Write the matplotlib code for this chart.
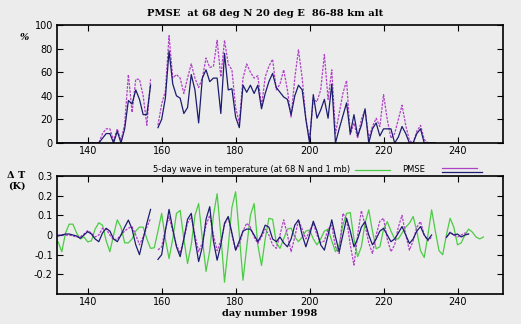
import numpy as np
import matplotlib
matplotlib.use('Agg')
import matplotlib.pyplot as plt
from matplotlib.lines import Line2D

nan = np.nan

# daily PMSE occurrence (%) at 86-88 km, days 131..234
pmse_days = np.arange(131, 235)
pmse_dark = [0, 0, 0, 0, 0, 0, 0, 0, 0, 0, 0, 0,
             0, 4, 8, 8, 0, 10, 0, 12, 36, 33, 45, 37, 24, 24, 49, nan,
             13, 20, 38, 78, 50, 40, 38, 25, 30, 58, 45, 17, 55, 62, 52,
             55, 55, 25, 76, 45, 46, 22, 13, 49, 43, 49, 42, 49, 29, 42,
             52, 59, 47, 43, 39, 37, 24, 40, 49, 45, 20, 0, 41, 21, 28,
             37, 21, 50, 0, 12, 23, 34, 8, 24, 6, 15, 29, 0, 12, 17,
             6, 12, 12, 12, 0, 5, 14, 8, 0, 0, 8, 12, 0, 0, 0, 0]
pmse_light = [0, 0, 0, 0, 0, 0, 0, 0, 0, 0, 0, 0,
              0, 8, 12, 12, 2, 12, 2, 16, 58, 26, 54, 54, 40, 15, 54, nan,
              15, 33, 44, 91, 55, 58, 55, 42, 55, 67, 55, 47, 55, 72, 64,
              65, 87, 56, 87, 67, 62, 30, 17, 55, 67, 60, 55, 57, 31, 56,
              65, 71, 45, 50, 62, 45, 22, 55, 79, 55, 20, 3, 37, 35, 45,
              75, 37, 62, 8, 25, 42, 53, 7, 17, 4, 20, 28, 4, 14, 21,
              14, 41, 20, 4, 8, 20, 32, 15, 2, 0, 10, 15, 3, 0, 0, 0]

# 5-day wave in temperature (K), days 132..247
temp_days = np.arange(132, 248)
temp_wave = [-0.035, -0.085, 0.01, 0.055, 0.055, 0.01, -0.02, -0.01, -0.035, -0.03,
             0.03, 0.062, 0.05, -0.03, -0.085, 0.0, 0.077, 0.04, -0.04, -0.04,
             -0.02, 0.02, 0.04, 0.04, -0.02, -0.068, -0.065, 0.02, 0.11, -0.02,
             -0.12, -0.02, 0.11, 0.125, -0.02, -0.145, -0.05, 0.1, 0.16, -0.02,
             -0.185, -0.08, 0.1, 0.21, 0.0, -0.24, -0.06, 0.14, 0.22, 0.0,
             -0.23, -0.06, 0.1, 0.16, -0.05, -0.155, -0.02, 0.085, 0.08, -0.04,
             -0.068, -0.02, 0.03, 0.035, -0.01, -0.034, -0.01, 0.02, 0.026, -0.02,
             -0.05, -0.02, 0.02, 0.03, -0.03, -0.085, -0.05, 0.05, 0.11, 0.114,
             -0.02, -0.11, -0.06, 0.06, 0.128, 0.02, -0.07, -0.06, 0.03, 0.068,
             0.02, -0.02, -0.02, 0.01, 0.04, 0.06, 0.094, 0.02, -0.08, -0.114,
             0.0, 0.128, 0.02, -0.08, -0.1, 0.0, 0.085, 0.04, -0.05, -0.04,
             0.0, 0.03, 0.015, -0.01, -0.02, -0.01]

# 5-day component of PMSE, days 132..243
wave_days = np.arange(132, 244)
wave_dark = [-0.005, 0.0, 0.005, 0.005, 0.0, -0.005, -0.017, 0.0, 0.017, 0.005,
             -0.02, -0.034, 0.01, 0.034, 0.02, -0.02, -0.034, 0.0, 0.04, 0.076,
             0.03, -0.05, -0.1, -0.02, 0.06, 0.13, nan, -0.124, -0.1, 0.02,
             0.13, 0.03, -0.06, -0.11, -0.02, 0.08, 0.11, -0.02, -0.135, -0.06,
             0.08, 0.144, -0.03, -0.128, -0.05, 0.06, 0.094, 0.01, -0.077, -0.03,
             0.02, 0.03, 0.03, 0.0, -0.034, 0.0, 0.05, 0.04, -0.02, -0.034,
             -0.01, -0.04, -0.06, -0.02, 0.05, 0.077, 0.0, -0.06, 0.0, 0.07,
             0.02, -0.05, -0.077, 0.0, 0.077, -0.01, -0.085, 0.0, 0.085, 0.02,
             -0.06, -0.02, 0.04, 0.068, 0.0, -0.05, -0.02, 0.02, 0.034, 0.0,
             -0.034, -0.02, 0.01, 0.043, 0.0, -0.043, -0.02, 0.02, 0.043, 0.0,
             -0.025, 0.0, nan, nan, nan, -0.012, 0.012, 0.0, 0.005, -0.01,
             0.0, 0.005]
wave_light = [0.0, 0.0, -0.002, 0.0, -0.005, -0.01, -0.01, 0.005, 0.022, 0.01,
              -0.01, 0.0, 0.034, 0.03, 0.0, -0.025, -0.02, 0.0, 0.02, 0.035,
              0.042, 0.0, -0.05, -0.01, 0.04, 0.085, nan, -0.076, -0.06, 0.03,
              0.093, 0.02, -0.05, -0.093, -0.02, 0.06, 0.093, 0.0, -0.085, -0.04,
              0.05, 0.1, 0.0, -0.08, -0.03, 0.05, 0.093, 0.0, -0.076, -0.05,
              0.02, 0.06, 0.04, -0.01, -0.043, -0.01, 0.03, 0.0, -0.05, -0.068,
              0.0, 0.077, 0.0, -0.085, -0.01, 0.077, 0.03, -0.02, 0.02, 0.06,
              0.0, -0.04, -0.03, 0.03, 0.05, -0.06, -0.094, 0.11, 0.08, -0.05,
              -0.153, 0.0, 0.124, 0.05, -0.04, -0.094, 0.0, 0.07, 0.085, -0.02,
              -0.085, -0.05, 0.04, 0.1, 0.0, -0.077, -0.03, 0.04, 0.068, 0.0,
              -0.03, -0.01, nan, nan, nan, -0.01, 0.015, 0.0, -0.01, 0.0,
              0.01, 0.005]

bg = '#ececec'
navy = '#1c1c70'
violet = '#b040c8'
green = '#4ccc44'
serif = 'DejaVu Serif'

W, H = 521, 324
fig = plt.figure(figsize=(W / 100, H / 100), dpi=100, facecolor=bg)

def px(x, y):
    return x / W, 1 - y / H

ax1 = fig.add_axes([57 / W, 1 - 143 / H, 446 / W, 118 / H], facecolor=bg)
ax2 = fig.add_axes([57 / W, 1 - 294 / H, 446 / W, 118 / H], facecolor=bg)

ax1.plot(pmse_days, pmse_light, color=violet, lw=0.9, ls=(0, (2, 1)))
ax1.plot(pmse_days, pmse_dark, color=navy, lw=0.9)
ax1.set_ylim(0, 100)
ax1.set_yticks([0, 20, 40, 60, 80, 100])

ax2.plot(temp_days, temp_wave, color=green, lw=0.9)
ax2.plot(wave_days, wave_light, color=violet, lw=0.9, ls=(0, (2, 1)))
ax2.plot(wave_days, wave_dark, color=navy, lw=0.9)
ax2.set_ylim(-0.3, 0.3)
ax2.set_yticks([-0.2, -0.1, 0, 0.1, 0.2, 0.3])
ax2.set_yticklabels(['-0.2', '-0.1', '0', '0.1', '0.2', '0.3'])

for ax in (ax1, ax2):
    ax.set_xlim(131.7, 252.3)
    ax.set_xticks([140, 160, 180, 200, 220, 240])
    ax.tick_params(direction='in', length=4, width=0.8, top=True, right=True,
                   labelsize=7, pad=3, colors='black')
    ax.tick_params(axis='x', pad=2.5)
    for s in ax.spines.values():
        s.set_linewidth(1.2)
        s.set_color('black')

fig.text(*px(265, 14), 'PMSE  at 68 deg N 20 deg E  86-88 km alt',
         family=serif, weight='bold', size=7.2, ha='center', va='center')
fig.text(*px(24, 37), '%', family=serif, weight='bold', style='italic',
         size=7, ha='center', va='center')
fig.text(*px(16, 175), '\u0394 T', family=serif, weight='bold', size=7,
         ha='center', va='center')
fig.text(*px(17, 186), '(K)', family=serif, weight='bold', size=7,
         ha='center', va='center')
fig.text(*px(270, 314), 'day number 1998', family=serif, weight='bold',
         size=7, ha='center', va='center')

# legend above the lower panel
fig.text(*px(153, 169), '5-day wave in temperature (at 68 N and 1 mb)',
         size=6, ha='left', va='center')
fig.text(*px(402, 169), 'PMSE', size=6, ha='left', va='center')
fig.add_artist(Line2D([355 / W, 390 / W], [1 - 170 / H] * 2, color=green, lw=0.9))
fig.add_artist(Line2D([442 / W, 477 / W], [1 - 168 / H] * 2, color=violet, lw=0.9))
fig.add_artist(Line2D([442 / W, 482 / W], [1 - 172 / H] * 2, color=navy, lw=0.9))

fig.savefig('out.png', dpi=100, facecolor=bg)
